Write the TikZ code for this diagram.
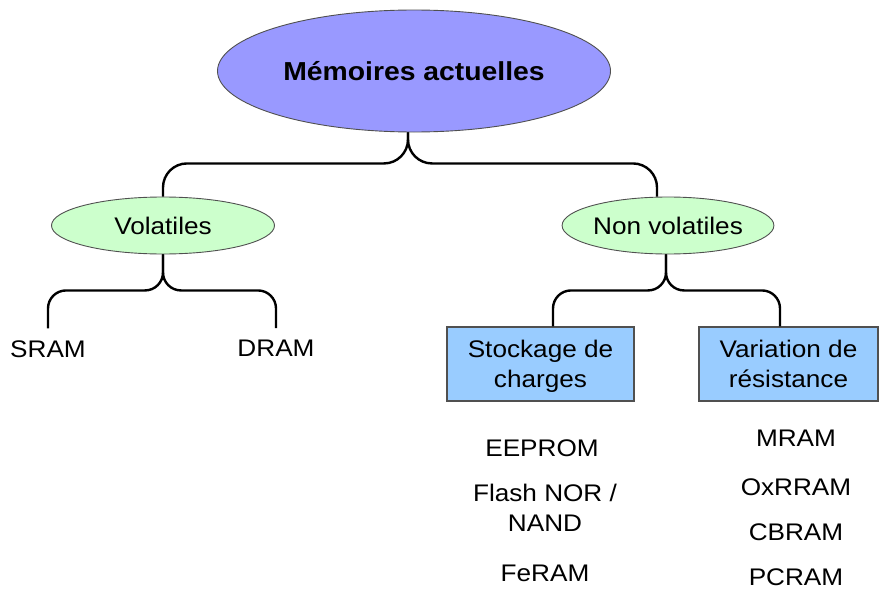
\documentclass[tikz,border=0pt]{standalone}
\usepackage{fontspec}
\setmainfont{Liberation Sans}[FakeStretch=1.09]
\usetikzlibrary{shapes.geometric,calc}
\definecolor{topfill}{HTML}{9999FF}
\definecolor{greenfill}{HTML}{CCFFCC}
\definecolor{boxfill}{HTML}{99CCFF}
\definecolor{edgegray}{HTML}{505050}
\tikzset{
  topnode/.style={ellipse, draw=edgegray, line width=0.9pt, fill=topfill, inner sep=0pt,
    minimum width=393pt, minimum height=122pt, font=\fontsize{26}{30}\selectfont\bfseries},
  catnode/.style={ellipse, draw=edgegray, line width=0.9pt, fill=greenfill, inner sep=0pt,
    minimum height=57pt, font=\fontsize{24}{29}\selectfont},
  boxnode/.style={rectangle, draw=edgegray, line width=1.1pt, fill=boxfill, inner sep=0pt,
    minimum height=74pt, align=center, text depth=0pt, font=\fontsize{24}{30}\selectfont},
  itemnode/.style={inner xsep=0pt, inner ysep=12pt, font=\fontsize{24}{29}\selectfont},
  listnode/.style={inner sep=0pt, anchor=base, align=center, font=\fontsize{24}{30}\selectfont},
  bracebig/.style={line width=2.4pt, rounded corners=24pt},
  bracesmall/.style={line width=2.4pt, rounded corners=18pt}
}
\begin{document}
\begin{tikzpicture}[x=1pt,y=-1pt]
\useasboundingbox (0,0) rectangle (879,589);
\node[topnode] (top) at (414,71) {Mémoires actuelles};
\node[catnode, minimum width=223pt] (vol) at (163,225.5) {Volatiles};
\node[catnode, minimum width=211pt] (nv) at (668,225.5) {Non volatiles};
\node[boxnode, minimum width=187pt] (sto) at (540.5,364) {Stockage de\\charges};
\node[boxnode, minimum width=179pt] (var) at (788.5,364) {Variation de\\résistance};
\node[itemnode] (sram) at (48,349) {SRAM};
\node[itemnode] (dram) at (276,348.5) {DRAM};
\node[listnode] (eeprom) at (542,456) {EEPROM};
\node[inner sep=0pt, align=center, text depth=0pt, font=\fontsize{24}{30}\selectfont] (flash) at (545,508) {Flash NOR /\\NAND};
\node[listnode] (feram) at (545,581) {FeRAM};
\node[listnode] (mram) at (796,446) {MRAM};
\node[listnode] (oxrram) at (796,495) {OxRRAM};
\node[listnode] (cbram) at (796,540) {CBRAM};
\node[listnode] (pcram) at (796,585) {PCRAM};
% braces
\draw[bracebig] ($(top.south)+(-6,0)$) -- ++(0,31) -| (vol.north);
\draw[bracebig] ($(top.south)+(-6,0)$) -- ++(0,31) -| ($(nv.north)+(-11,0)$);
\draw[bracesmall] (vol.south) -- ++(0,36) -| (sram.north);
\draw[bracesmall] (vol.south) -- ++(0,36) -| (dram.north);
\draw[bracesmall] ($(nv.south)+(-2,0)$) -- ++(0,36) -| ($(sto.north)+(12.5,0)$);
\draw[bracesmall] ($(nv.south)+(-2,0)$) -- ++(0,36) -| ($(var.north)+(-8.5,0)$);
\end{tikzpicture}
\end{document}
